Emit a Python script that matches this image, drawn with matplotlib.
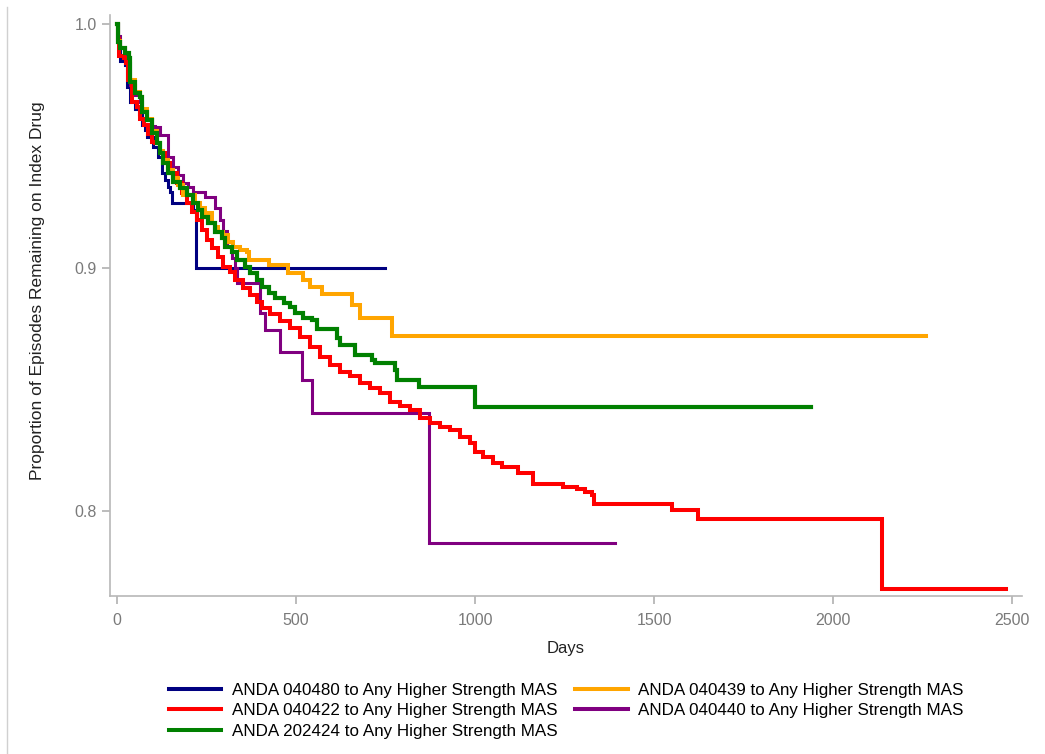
import matplotlib
matplotlib.use("Agg")
import matplotlib.pyplot as plt
from matplotlib.lines import Line2D

plt.rcParams['font.family'] = ['Liberation Sans', 'DejaVu Sans']

# step points: (day the value changes, value after)
navy_days = [0, 2, 8, 22, 27, 36, 50, 60, 69, 78, 83, 101, 115, 125, 134, 143, 148, 153, 212, 221, 749]
navy_vals = [1.0, 0.993, 0.985, 0.983, 0.974, 0.968, 0.965, 0.963, 0.9586, 0.9565, 0.9538, 0.9497,
             0.9455, 0.9387, 0.936, 0.9333, 0.9312, 0.9264, 0.9235, 0.900, 0.900]

red_days = [0, 2, 4, 18, 24, 30, 42, 55, 64, 74, 87, 97, 106, 120, 134, 148, 167, 181, 195, 209,
            223, 237, 251, 265, 283, 297, 316, 330, 352, 372, 391, 405, 427, 455, 483, 511, 539,
            567, 595, 623, 651, 679, 707, 735, 763, 790, 818, 846, 874, 902, 930, 958, 986, 1000,
            1022, 1050, 1075, 1120, 1162, 1246, 1285, 1307, 1327, 1332, 1549, 1624, 2137, 2483]
red_vals = [1.0, 0.994, 0.987, 0.986, 0.984, 0.977, 0.968, 0.966, 0.961, 0.9586, 0.955, 0.9517,
            0.951, 0.947, 0.9428, 0.9387, 0.9346, 0.9305, 0.9264, 0.923, 0.9196, 0.9155, 0.9114,
            0.908, 0.9045, 0.9004, 0.8984, 0.895, 0.8916, 0.8888, 0.8861, 0.8834, 0.881, 0.878,
            0.8752, 0.8717, 0.8676, 0.8635, 0.8601, 0.8574, 0.8556, 0.8526, 0.8505, 0.8485, 0.845,
            0.8433, 0.8416, 0.8382, 0.8362, 0.8348, 0.8334, 0.8307, 0.828, 0.8245, 0.8225, 0.8198,
            0.8183, 0.8159, 0.8113, 0.8102, 0.8091, 0.808, 0.8068, 0.803, 0.8006, 0.7969, 0.7682,
            0.7682]

green_days = [0, 2, 8, 22, 32, 36, 50, 64, 69, 83, 97, 111, 120, 129, 143, 157, 176, 195, 213,
              227, 237, 255, 274, 292, 302, 320, 334, 358, 372, 390, 404, 423, 441, 465, 483, 497,
              520, 544, 558, 614, 623, 665, 711, 721, 777, 781, 842, 1000, 1938]
green_vals = [1.0, 0.9927, 0.99, 0.988, 0.986, 0.9763, 0.9716, 0.9702, 0.964, 0.9606, 0.9552,
              0.951, 0.947, 0.9428, 0.9387, 0.9353, 0.9326, 0.9298, 0.9264, 0.9237, 0.921, 0.9182,
              0.9148, 0.912, 0.9086, 0.9066, 0.9032, 0.9004, 0.8977, 0.895, 0.8922, 0.8895,
              0.8875, 0.8854, 0.884, 0.8813, 0.8793, 0.8786, 0.8748, 0.8711, 0.8683, 0.8642,
              0.8622, 0.8608, 0.8581, 0.854, 0.8509, 0.843, 0.843]

orange_days = [0, 2, 8, 22, 32, 36, 50, 64, 69, 83, 97, 111, 120, 129, 143, 157, 171, 185, 218,
               232, 246, 265, 274, 283, 297, 311, 325, 344, 362, 367, 423, 478, 520, 539, 572,
               656, 679, 767, 2260]
orange_vals = [1.0, 0.993, 0.99, 0.988, 0.986, 0.977, 0.972, 0.970, 0.965, 0.961, 0.956, 0.951,
               0.948, 0.944, 0.940, 0.937, 0.934, 0.930, 0.9264, 0.9244, 0.9223, 0.9182, 0.9168,
               0.9148, 0.9134, 0.9107, 0.9086, 0.9073, 0.9066, 0.9032, 0.9011, 0.8977, 0.895,
               0.8922, 0.8891, 0.8847, 0.8793, 0.872, 0.872]

purple_days = [0, 2, 8, 22, 32, 36, 50, 64, 69, 83, 97, 106, 120, 143, 157, 171, 185, 199, 213,
               246, 274, 288, 297, 306, 320, 330, 334, 399, 413, 455, 516, 544, 870, 1390]
purple_vals = [1.0, 0.995, 0.99, 0.986, 0.984, 0.975, 0.971, 0.968, 0.964, 0.961, 0.958, 0.9579,
               0.9545, 0.9455, 0.9415, 0.938, 0.9346, 0.9333, 0.9312, 0.9292, 0.9244, 0.9196,
               0.915, 0.909, 0.904, 0.900, 0.8936, 0.8813, 0.8745, 0.8655, 0.8539, 0.8403,
               0.7871, 0.7871]

series = [
    ('ANDA 040480 to Any Higher Strength MAS', navy_days, navy_vals, '#000080', 2.2),
    ('ANDA 040422 to Any Higher Strength MAS', red_days, red_vals, '#ff0000', 2.9),
    ('ANDA 202424 to Any Higher Strength MAS', green_days, green_vals, '#008000', 3.0),
    ('ANDA 040439 to Any Higher Strength MAS', orange_days, orange_vals, '#ffa500', 2.9),
    ('ANDA 040440 to Any Higher Strength MAS', purple_days, purple_vals, '#800080', 2.2),
]
zorders = [2, 4, 6, 5, 3]

fig = plt.figure(figsize=(10.45, 7.54), dpi=100)
ax = fig.add_axes([110 / 1045, 158 / 754, 912 / 1045, 581 / 754])

for (label, d, v, color, lw), z in zip(series, zorders):
    ax.step(d, v, where='post', color=color, lw=lw, label=label, zorder=z,
            solid_joinstyle='miter')

ax.set_xlim(-20, 2528)
ax.set_ylim(0.7653, 1.0037)
ax.set_xticks([0, 500, 1000, 1500, 2000, 2500])
ax.set_yticks([0.8, 0.9, 1.0])
ax.set_yticklabels(['0.8', '0.9', '1.0'])

for side in ['top', 'right']:
    ax.spines[side].set_visible(False)
for side in ['left', 'bottom']:
    ax.spines[side].set_color('#b8b8b8')
    ax.spines[side].set_linewidth(1.2)
ax.tick_params(colors='#b0b0b0', labelcolor='#7a7a7a', labelsize=11.5, length=6, width=1.2)
ax.tick_params(axis='x', pad=6)

ax.set_xlabel('Days', fontsize=12, color='#222222')
ax.set_ylabel('Proportion of Episodes Remaining on Index Drug', fontsize=12.5, color='#222222')
ax.xaxis.set_label_coords(0.5, -0.077)
ax.yaxis.set_label_coords(-0.071, 0.525)

leg = ax.legend(loc='upper center', bbox_to_anchor=(566 / 1045, 1 - 668 / 754),
                bbox_transform=fig.transFigure, ncol=2, frameon=False, fontsize=12.25,
                handlelength=3.1, handletextpad=0.6, columnspacing=1.05, labelspacing=0.3)
for h in leg.get_lines():
    h.set_linewidth(2.9)

# faint page border on the left
fig.add_artist(Line2D([7 / 1045, 7 / 1045], [0, 1 - 7 / 754], color='#d0d0d0', lw=1))

fig.savefig('out.png', dpi=100)
